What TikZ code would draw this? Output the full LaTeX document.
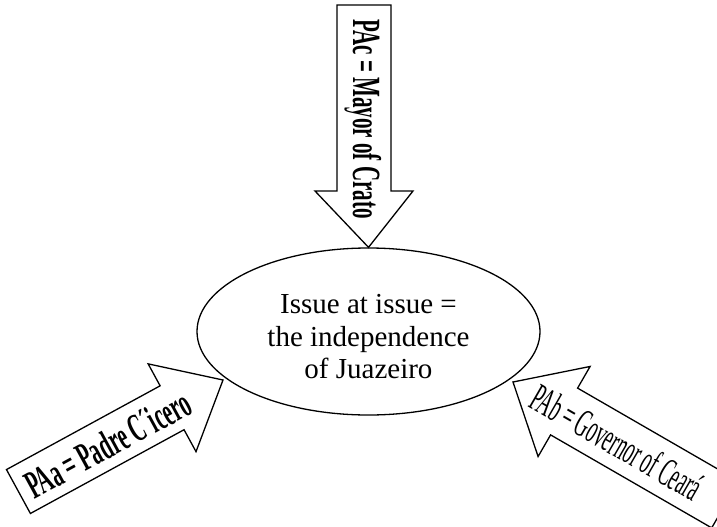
\documentclass[tikz,border=0pt]{standalone}
\usepackage{fontspec}
\setmainfont{Liberation Serif}
\usetikzlibrary{shapes.geometric}
\begin{document}
\begin{tikzpicture}[x=1pt,y=1pt]
\tikzset{
  blockarrow/.style={draw=black, line width=1.3pt, fill=white, line join=miter},
  issuebox/.style={ellipse, draw=black, line width=1.3pt, minimum width=343pt, minimum height=167pt, inner sep=0pt},
  issuetext/.style={inner sep=0pt, align=center, font=\fontsize{29}{32.5}\selectfont},
  armtext/.style={inner sep=0pt, font=\fontsize{40}{40}\selectfont}
}
\useasboundingbox (0,0) rectangle (717,-527);
% central ellipse
\node[issuebox] (issue) at (368.5,-331.5) {};
\node[issuetext] (issuelabel) at (368.5,-337) {Issue at issue =\\the independence\\of Juazeiro};
% top arrow
\draw[blockarrow] (337,-5) -- (391,-5) -- (391,-191) -- (413,-191) -- (issue.north) -- (315,-191) -- (337,-191) -- cycle;
\node[armtext, rotate=-90] (pac) at (363,-119) {\scalebox{0.525}[1]{\bfseries PAc = Mayor of Crato}};
% left arrow
\begin{scope}[shift={(223,-380)}, rotate=28.6]
  \draw[blockarrow] (0,0) -- (-58,50) -- (-58,25) -- (-233,25) -- (-233,-25) -- (-58,-25) -- (-58,-50) -- cycle;
  \node[armtext, rotate=28.6] (paa) at (-132,-1) {\scalebox{0.52}[1]{\bfseries PAa = Padre C´icero}};
\end{scope}
% right arrow
\begin{scope}[shift={(513,-382)}, rotate=150]
  \draw[blockarrow] (0,0) -- (-59,52) -- (-59,27) -- (-245,27) -- (-245,-27) -- (-59,-27) -- (-59,-52) -- cycle;
  \node[armtext, rotate=-30] (pab) at (-120,0) {\scalebox{0.467}[1]{PAb = Governor of Ceará}};
\end{scope}
\end{tikzpicture}
\end{document}
